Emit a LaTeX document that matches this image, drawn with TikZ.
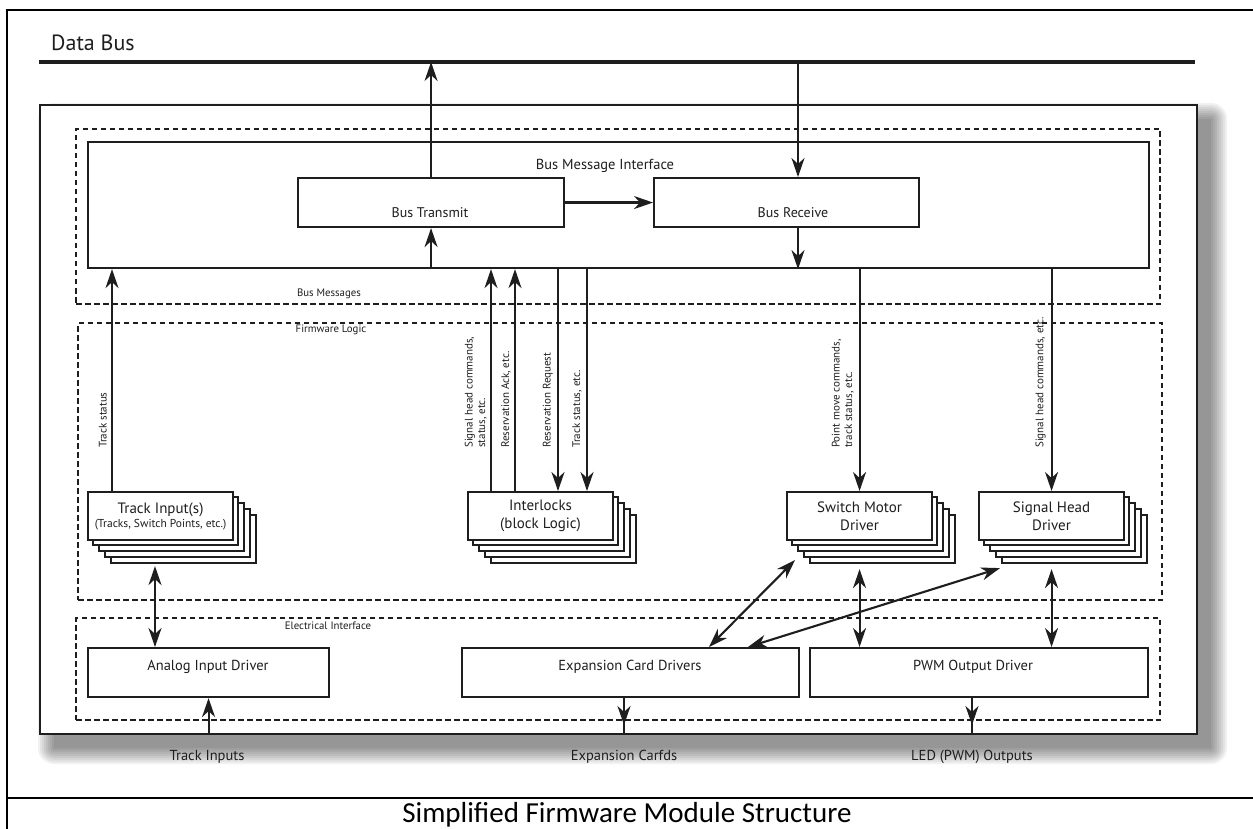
\documentclass[tikz,border=0pt]{standalone}
\usepackage{fontspec}
\setmainfont{PT Sans}
\newfontfamily\capfont{Carlito}
\usetikzlibrary{arrows.meta,calc}
\definecolor{linec}{HTML}{1E1E1E}
\tikzset{
  box/.style={draw=linec, line width=2.1pt, fill=white, inner sep=0pt, anchor=north west},
  dbox/.style={draw=linec, line width=2pt, dash pattern=on 5.5pt off 3.5pt, inner sep=0pt, anchor=north west},
  lbl/.style={font=\fontsize{14.5}{17}\selectfont, text=linec, inner sep=0pt},
  blbl/.style={font=\fontsize{14}{16}\selectfont, text=linec, inner sep=0pt},
  small/.style={font=\fontsize{10.8}{12}\selectfont, text=linec, inner sep=0pt},
  vlbl/.style={rotate=90, anchor=south west, align=left, font=\fontsize{11}{12.5}\selectfont, text=linec, inner sep=0pt},
  stk/.style={box, minimum width=145pt, minimum height=48pt, align=center, font=\fontsize{15}{18}\selectfont, text=linec},
  arr/.style={-{Stealth[length=19pt,width=13pt,inset=6pt]}, line width=2.1pt, draw=linec},
  darr/.style={{Stealth[length=19pt,width=13pt,inset=6pt]}-{Stealth[length=19pt,width=13pt,inset=6pt]}, line width=2.1pt, draw=linec},
  ln/.style={line width=2.1pt, draw=linec},
}
\newcommand{\stackbox}[4]{%
  \foreach \i in {4,3,2,1} {\draw[linec, line width=1.9pt, fill=white] ({#2+6*\i},{#3+6*\i}) rectangle ++(145,48);}
  \node[stk] (#1) at (#2,#3) {#4};
}
\begin{document}
\begin{tikzpicture}[x=1pt,y=-1pt]
\useasboundingbox (0,0) rectangle (1253,829);
\fill[white] (0,0) rectangle (1253,829);
% outer frame
\draw[line width=2.6pt, black] (1253,10) -- (7,10) -- (7,829);
\draw[line width=2.6pt, black] (7,798) -- (1253,798);
% Data bus
\node[anchor=west, font=\fontsize{22}{25}\selectfont, text=linec, inner sep=0pt] (dbl) at (51,43) {Data Bus};
\coordinate (busL) at (39,62);
\coordinate (busR) at (1195,62);
\draw[line width=3.5pt, linec] (busL) -- (busR);
% shadow
\foreach \k in {0,2,...,16} {\fill[black, opacity=0.055, rounded corners=\k pt] ({39+15-\k},{104+15-\k}) rectangle ({1196+15+\k},{733+15+\k});}
% main box
\node[box, minimum width=1157pt, minimum height=629pt] (main) at (39,104) {};
% dashed regions
\node[dbox, minimum width=1084pt, minimum height=175pt] (dash1) at (75,128) {};
\node[dbox, minimum width=1084pt, minimum height=277pt] (dash2) at (77,322) {};
\node[dbox, minimum width=1084pt, minimum height=102pt] (dash3) at (75,617) {};
% bus message interface
\node[box, minimum width=1061pt, minimum height=126pt] (bmi) at (87,141) {};
\node[lbl] (bmit) at (605,166) {Bus Message Interface};
\node[box, minimum width=266pt, minimum height=49pt] (btx) at (297,177) {};
\node[blbl] (btxt) at (430,213) {Bus Transmit};
\node[box, minimum width=265pt, minimum height=49pt] (brx) at (653,177) {};
\node[blbl] (brxt) at (793,213) {Bus Receive};
\node[small] (bmsg) at (329,294) {Bus Messages};
\node[small] (fwl) at (331,330) {Firmware Logic};
\node[small] (eli) at (328,626) {Electrical Interface};
% stacks
\stackbox{ti}{87}{491}{Track Input(s)\\[-4pt]{\fontsize{11.5}{13}\selectfont (Tracks, Switch Points, etc.)}}
\stackbox{il}{467}{491}{Interlocks\\(block Logic)}
\stackbox{sm}{786}{491}{Switch Motor\\Driver}
\stackbox{sh}{978}{491}{Signal Head\\Driver}
% drivers
\node[box, minimum width=241pt, minimum height=49pt] (aid) at (87,647) {};
\node[lbl] (aidt) at (208,667) {Analog Input Driver};
\node[box, minimum width=337pt, minimum height=49pt] (ecd) at (461,647) {};
\node[lbl] (ecdt) at (630,667) {Expansion Card Drivers};
\node[box, minimum width=338pt, minimum height=49pt] (pwm) at (809,647) {};
\node[lbl] (pwmt) at (973,667) {PWM Output Driver};
% bottom labels
\node[lbl] (tin) at (207,757) {Track Inputs};
\node[lbl] (exc) at (624,757) {Expansion Carfds};
\node[lbl] (led) at (972,757) {LED (PWM) Outputs};
% caption
\node[font=\capfont\fontsize{29}{32}\selectfont, inner sep=0pt] (cap) at (627,815) {Simplified Firmware Module Structure};
% bus arrows
\draw[arr] (btx.north) -- (btx.north |- busL);
\coordinate (brxT) at ($(brx.north west)+(145,0)$);
\coordinate (brxB) at ($(brx.south west)+(145,0)$);
\draw[arr] (busL -| brxT) -- (brxT);
\draw[arr] (btx.east) -- (brx.west);
\draw[arr] (bmi.south -| btx.south) -- (btx.south);
\draw[arr] (brxB) -- (brxB |- bmi.south);
% track status
\coordinate (ti1) at ($(ti.north west)+(25,0)$);
\draw[arr] (ti1) -- (ti1 |- bmi.south);
\node[vlbl] (tst) at (107,448) {Track status};
% interlocks
\coordinate (il1) at ($(il.north west)+(24,0)$);
\coordinate (il2) at ($(il.north west)+(48,0)$);
\coordinate (il3) at ($(il.north west)+(91,0)$);
\coordinate (il4) at ($(il.north west)+(120,0)$);
\draw[arr] (il1) -- (il1 |- bmi.south);
\draw[arr] (il2) -- (il2 |- bmi.south);
\draw[arr] (il3 |- bmi.south) -- (il3);
\draw[arr] (il4 |- bmi.south) -- (il4);
\node[vlbl] (l1) at (487,448) {Signal head commands,\\status, etc.};
\node[vlbl] (l2) at (511,448) {Reservation Ack, etc.};
\node[vlbl] (l3) at (553,448) {Reservation Request};
\node[vlbl] (l4) at (582,448) {Track status, etc.};
% drivers from bus
\draw[arr] (sm.north |- bmi.south) -- (sm.north);
\draw[arr] (sh.north |- bmi.south) -- (sh.north);
\node[vlbl] (l5) at (854,448) {Point move commands,\\track status, etc.};
\node[vlbl] (l6) at (1046,448) {Signal head commands, etc.};
% stacks to drivers
\coordinate (tib) at ($(ti.south west)+(68,25)$);
\draw[darr] (tib) -- (tib |- aid.north);
\coordinate (smb) at ($(sm.south)+(0,28)$);
\draw[darr] (smb) -- (smb |- pwm.north);
\coordinate (shb) at ($(sh.south)+(0,28)$);
\draw[darr] (shb) -- (shb |- pwm.north);
\draw[darr] ($(sm.south west)+(9,19)$) -- ($(ecd.north west)+(248,0)$);
\draw[darr] ($(sh.south west)+(22,27)$) -- ($(ecd.north west)+(287,0)$);
% external io
\draw[arr] (aid.south |- main.south) -- (aid.south);
\coordinate (ecb) at ($(ecd.south west)+(163,0)$);
\draw[arr] (ecb) -- ($(ecb |- dash3.south)+(0,4)$);
\draw[ln] (ecb |- dash3.south) -- (ecb |- main.south);
\coordinate (pwb) at ($(pwm.south west)+(163,0)$);
\draw[arr] (pwb) -- ($(pwb |- dash3.south)+(0,4)$);
\draw[ln] (pwb |- dash3.south) -- (pwb |- main.south);
\end{tikzpicture}
\end{document}
